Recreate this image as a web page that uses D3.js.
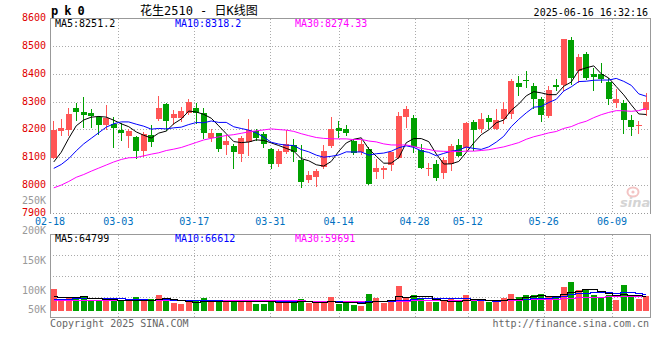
<!DOCTYPE html>
<html><head><meta charset="utf-8">
<script src="https://cdn.jsdelivr.net/npm/d3@7"></script>
<style>body{margin:0;background:#fff}svg{display:block}</style>
</head><body>
<svg id="c" width="660" height="360"></svg>
<script>
// ---------- DATA ----------
const dates = ["02-18","02-19","02-20","02-21","02-24","02-25","02-26","02-27","02-28",
"03-03","03-04","03-05","03-06","03-07","03-10","03-11","03-12","03-13","03-14",
"03-17","03-18","03-19","03-20","03-21","03-24","03-25","03-26","03-27","03-28",
"03-31","04-01","04-02","04-03","04-07","04-08","04-09","04-10","04-11",
"04-14","04-15","04-16","04-17","04-18","04-21","04-22","04-23","04-24","04-25",
"04-28","04-29","04-30","05-06","05-07","05-08","05-09",
"05-12","05-13","05-14","05-15","05-16","05-19","05-20","05-21","05-22","05-23",
"05-26","05-27","05-28","05-29","05-30","06-03","06-04","06-05","06-06",
"06-09","06-10","06-11","06-12","06-13","06-16"];
const opens = [8100,8196,8201,8277,8263,8262,8246,8219,8220,8200,
8178,8173,8125,8182,8238,8293,8244,8244,8262,8280,
8260,8170,8188,8145,8142,8115,8157,8195,8185,8133,
8077,8121,8145,8092,8020,8032,8068,8143,8208,8202,
8160,8121,8133,8050,8057,8074,8100,8246,8244,8127,
8060,8077,8044,8076,8145,8135,8229,8202,8244,8205,
8240,8258,8369,8378,8356,8310,8249,8363,8362,8524,
8410,8473,8399,8401,8371,8296,8298,8235,8215,8270];
const highs = [8231,8241,8280,8295,8317,8276,8249,8288,8245,8224,
8205,8178,8194,8218,8323,8295,8271,8283,8310,8298,
8280,8203,8190,8181,8150,8180,8241,8204,8193,8136,
8130,8199,8167,8146,8052,8060,8145,8246,8231,8217,
8167,8165,8140,8095,8071,8122,8264,8286,8252,8151,
8082,8092,8104,8151,8169,8228,8235,8262,8252,8274,
8302,8383,8395,8410,8369,8320,8357,8383,8527,8532,
8473,8479,8421,8440,8386,8348,8306,8252,8231,8333];
const lows = [8100,8181,8181,8235,8211,8211,8187,8205,8140,8164,
8140,8100,8106,8142,8236,8200,8222,8232,8258,8224,
8170,8160,8125,8115,8064,8088,8110,8165,8139,8064,
8071,8118,8088,7996,8013,8000,8064,8140,8175,8181,
8112,8112,8005,8029,8026,8056,8098,8211,8121,8062,
8038,8020,8026,8056,8105,8128,8128,8193,8207,8203,
8226,8243,8324,8354,8279,8231,8247,8342,8345,8366,
8371,8384,8342,8371,8294,8282,8190,8183,8190,8252];
const closes = [8199,8206,8256,8264,8254,8249,8219,8244,8208,8190,
8197,8125,8184,8158,8279,8233,8257,8269,8301,8262,
8190,8188,8132,8160,8121,8171,8199,8171,8149,8077,
8124,8148,8121,8014,8040,8052,8124,8205,8196,8189,
8118,8151,8006,8064,8064,8119,8249,8274,8139,8064,
8064,8029,8092,8142,8107,8226,8199,8240,8229,8235,
8274,8374,8354,8375,8310,8252,8342,8354,8526,8386,
8463,8386,8389,8383,8310,8310,8237,8211,8219,8300];
const volumes = [90300,45800,52800,52800,61100,41700,45800,45800,43100,41700,
38900,56900,41700,48600,65300,48600,31900,27800,38900,41700,
52800,34700,38900,38900,43100,45800,45800,29200,29200,45800,
40300,40300,31900,48600,31900,31900,40300,56900,29200,31900,
23600,20800,69400,52800,33300,40300,102800,55600,65300,48600,
36100,34700,43100,48600,34700,65300,48600,38900,36100,38900,
52800,69400,56900,65300,65300,69400,56900,52800,98600,119400,
86100,86100,66700,58300,65300,44400,106900,55600,48600,59700];
// moving-average values on the first days (their windows start before 02-18)
const ma5Head  = [8085,8120,8170,8215];
const ma10Head = [8062,8076,8097,8125,8150,8170,8190,8210,8222];
const ma30Head = [7992,8002,8015,8030,8040,8052,8063,8074,8085,8094,8100,8101,8107,8113,8118,
                  8126,8131,8137,8146,8155,8164,8170,8175,8180,8183,8188,8193,8197,8200];
const volMa5Head  = [60000,57000,56000,56000];
const volMa10Head = [48600,49500,50500,51000,51500,51500,51500,52000,52000];
const volMa30Head = [44000,44000,44000,44000,44000,44500,44500,45000,45000,45000,45000,45000,45500,45500,45500,
                     46000,46000,46000,46000,46000,46000,45500,45500,45500,45500,45500,45500,45500,45500];
const priceTicks = [8600,8500,8400,8300,8200,8100,8000,7900];
const dateTicks = ["02-18","03-03","03-17","03-31","04-14","04-28","05-12","05-26","06-09"];
const volTickValues = [250000,200000,150000,100000,50000];
const volTickLabels = ["250K","200K","150K","100K","50K"];
const volGridValues = [50000,100000,150000];
const priceLegend = ["MA5:8251.2","MA10:8318.2","MA30:8274.33"];
const volLegend = ["MA5:64799","MA10:66612","MA30:59691"];
const maColors = ["#000000","#0000ff","#ff00ff"];
const titleText = "花生2510 - 日K线图";
const codeText = "pk0";
const timeText = "2025-06-16 16:32:16";

// ---------- LAYOUT ----------
const L = 50, R = 650, pTop = 18.5, pBot = 213.5, vTop = 234.5, vBot = 317.5;
const UP = "#ff5555", DOWN = "#00a000", GRID = "#aaaaaa", FRAME = "#999999";
const MONO = "'DejaVu Sans Mono', monospace";
const svg = d3.select("#c");
const idx = d3.range(dates.length);

const x = d3.scaleBand().domain(dates).range([L, R]).paddingInner(0.2).paddingOuter(0.1);
const gx = d3.scalePoint().domain(dates).range([L, R]);
const y = d3.scaleLinear().domain([7900, 8600]).range([pBot, pTop]);
const yv = d3.scaleLinear().domain([0, 200000]).range([310.7, 262.7]);
const vGrid = d3.scaleLinear().domain([0, 200000]).range([vBot, vTop]);
const vLabel = d3.scaleLinear().domain([100000, 250000]).range([293.7, 204]);

function movingAvg(vals, n, head) {
  return vals.map((v, i) => i < n - 1 ? head[i] : d3.mean(vals.slice(i - n + 1, i + 1)));
}
const ma5 = movingAvg(closes, 5, ma5Head), ma10 = movingAvg(closes, 10, ma10Head), ma30 = movingAvg(closes, 30, ma30Head);
const vma5 = movingAvg(volumes, 5, volMa5Head), vma10 = movingAvg(volumes, 10, volMa10Head), vma30 = movingAvg(volumes, 30, volMa30Head);
const cx = i => x(dates[i]) + x.bandwidth() / 2;
const px = v => Math.round(v) + 0.5;

// ---------- GRID ----------
const grid = svg.append("g").attr("stroke", GRID).attr("stroke-dasharray", "1,2").attr("shape-rendering", "crispEdges");
grid.selectAll(".hg").data(priceTicks.filter(t => t > 7900 && t < 8600)).join("line")
  .attr("x1", L).attr("x2", R).attr("y1", d => px(y(d) - 0.5)).attr("y2", d => px(y(d) - 0.5));
grid.selectAll(".vg").data(dateTicks.slice(1)).join("line")
  .attr("x1", d => px(gx(d))).attr("x2", d => px(gx(d))).attr("y1", pTop).attr("y2", pBot);
grid.selectAll(".hv").data(volGridValues).join("line").attr("class", "hv")
  .attr("x1", L).attr("x2", R).attr("y1", d => px(vGrid(d))).attr("y2", d => px(vGrid(d)));
grid.selectAll(".vv").data(dateTicks.slice(1)).join("line").attr("class", "vv")
  .attr("x1", d => px(gx(d))).attr("x2", d => px(gx(d))).attr("y1", vTop).attr("y2", vBot);

// ---------- FRAMES ----------
const fr = svg.append("g").attr("stroke", FRAME).attr("fill", "none").attr("shape-rendering", "crispEdges");
fr.append("line").attr("x1", L).attr("x2", R + 1).attr("y1", pTop).attr("y2", pTop);
fr.append("line").attr("x1", L + 0.5).attr("x2", L + 0.5).attr("y1", pTop).attr("y2", pBot);
fr.append("line").attr("x1", R + 0.5).attr("x2", R + 0.5).attr("y1", pTop).attr("y2", pBot);
fr.append("line").attr("x1", L).attr("x2", R + 1).attr("y1", pBot).attr("y2", pBot).attr("stroke-dasharray", "1,2");
fr.append("rect").attr("x", L + 0.5).attr("y", vTop).attr("width", R - L).attr("height", vBot - vTop);

// ---------- SINA WATERMARK ----------
const wm = svg.append("g");
wm.append("ellipse").attr("cx", 633).attr("cy", 192).attr("rx", 5.5).attr("ry", 4.5).attr("fill", "none").attr("stroke", "#f3c4c4").attr("stroke-width", 2);
wm.append("circle").attr("cx", 633).attr("cy", 192).attr("r", 1.6).attr("fill", "#f3c4c4");
wm.append("text").attr("x", 620).attr("y", 207).text("sina")
  .attr("font-family", "'DejaVu Sans', sans-serif").attr("font-style", "italic").attr("font-weight", "bold")
  .attr("font-size", 13).attr("fill", "#d4d4d4");

// ---------- CANDLES ----------
const cg = svg.append("g").attr("shape-rendering", "crispEdges");
const col = i => closes[i] >= opens[i] ? UP : DOWN;
cg.selectAll(".wick").data(idx).join("line")
  .attr("x1", i => Math.floor(cx(i)) + 0.5).attr("x2", i => Math.floor(cx(i)) + 0.5)
  .attr("y1", i => Math.round(y(highs[i]))).attr("y2", i => Math.round(y(lows[i])) + 1)
  .attr("stroke", col);
cg.selectAll(".body").data(idx).join("rect")
  .attr("x", i => Math.round(x(dates[i])))
  .attr("width", Math.round(x.bandwidth()))
  .attr("y", i => Math.round(y(Math.max(opens[i], closes[i]))))
  .attr("height", i => Math.max(1, Math.round(y(Math.min(opens[i], closes[i]))) - Math.round(y(Math.max(opens[i], closes[i])))))
  .attr("fill", col);

// ---------- PRICE MA ----------
const lineP = d3.line().x((d, i) => cx(i)).y(d => y(d));
[ma5, ma10, ma30].forEach((m, k) => {
  svg.append("path").attr("d", lineP(m)).attr("fill", "none").attr("stroke", maColors[k]).attr("stroke-width", 1);
});

// ---------- VOLUME ----------
const vg = svg.append("g").attr("shape-rendering", "crispEdges");
vg.selectAll("rect").data(idx).join("rect")
  .attr("x", i => Math.round(x(dates[i])))
  .attr("width", Math.round(x.bandwidth()))
  .attr("y", i => Math.round(yv(volumes[i])))
  .attr("height", i => Math.round(yv(0)) - Math.round(yv(volumes[i])))
  .attr("fill", col);
const lineV = d3.line().x((d, i) => cx(i)).y(d => Math.round(yv(d)) + 0.5).curve(d3.curveStep);
[vma30, vma10, vma5].forEach((m, k) => {
  svg.append("path").attr("d", lineV(m)).attr("fill", "none").attr("stroke", maColors[2 - k]).attr("stroke-width", 1).attr("shape-rendering", "crispEdges");
});

// ---------- TEXT ----------
const T = svg.append("g").attr("font-family", MONO).attr("font-size", 10);
T.selectAll(".pl").data(priceTicks).join("text")
  .attr("x", 46).attr("y", d => y(d) + 2.5).attr("text-anchor", "end").attr("fill", "#e00000").text(d => d);
T.selectAll(".dl").data(dateTicks).join("text").attr("class", "dl")
  .attr("x", d => gx(d)).attr("y", 225).attr("text-anchor", "middle").attr("fill", "#0070c0").text(d => d);
T.selectAll(".vl").data(volTickValues).join("text").attr("class", "vl")
  .attr("x", 46).attr("y", d => Math.min(vLabel(d), 313)).attr("text-anchor", "end").attr("fill", "#999999")
  .text((d, i) => volTickLabels[i]);
T.selectAll(".lg").data(priceLegend).join("text").attr("class", "lg")
  .attr("x", (d, i) => 55 + i * 120).attr("y", 27.3).attr("fill", (d, i) => maColors[i]).text(d => d);
T.selectAll(".vlg").data(volLegend).join("text").attr("class", "vlg")
  .attr("x", (d, i) => 55 + i * 120).attr("y", 242).attr("fill", (d, i) => maColors[i]).text(d => d);
T.append("text").attr("x", 50).attr("y", 327).attr("fill", "#666666").text("Copyright 2025 SINA.COM");
T.append("text").attr("x", 649).attr("y", 327).attr("text-anchor", "end").attr("fill", "#666666").text("http://finance.sina.com.cn");
T.append("text").attr("x", 648).attr("y", 15.7).attr("text-anchor", "end").attr("fill", "#000").text(timeText);
svg.append("text").attr("x", 51).attr("y", 14.5).attr("font-family", MONO).attr("font-weight", "bold")
  .attr("font-size", 12).attr("letter-spacing", 6).attr("fill", "#000").text(codeText);
svg.append("text").attr("x", 140).attr("y", 14.5).attr("font-family", "'DejaVu Sans Mono','Noto Sans CJK SC',monospace")
  .attr("font-size", 12).attr("fill", "#000").text(titleText);
</script>
</body></html>
